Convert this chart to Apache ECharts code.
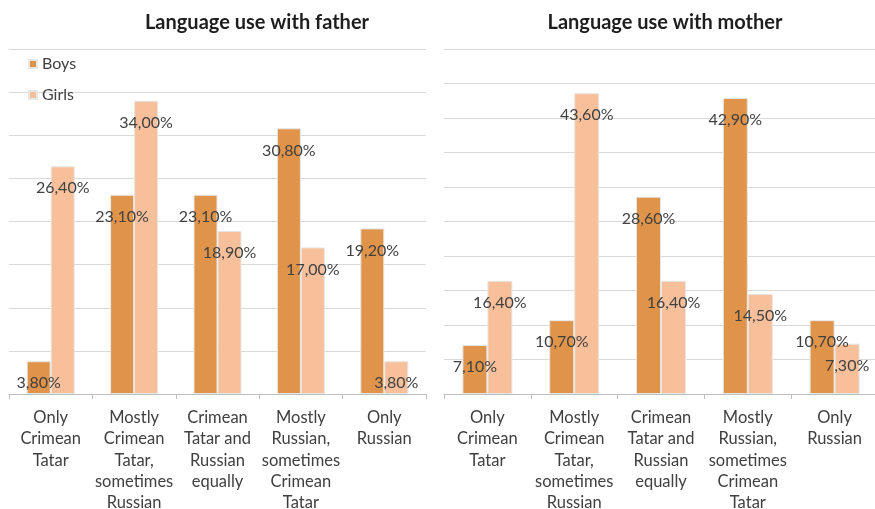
<!DOCTYPE html>
<html>
<head>
<meta charset="utf-8">
<script src="https://cdn.jsdelivr.net/npm/echarts@6/dist/echarts.min.js"></script>
<style>
  html, body { margin: 0; padding: 0; background: #fff; }
  #chart { width: 875px; height: 509px; }
</style>
</head>
<body>
<div id="chart"></div>
<script>
// Answer categories shared by both panels
const categories = [
  'Only\nCrimean\nTatar',
  'Mostly\nCrimean\nTatar,\nsometimes\nRussian',
  'Crimean\nTatar and\nRussian\nequally',
  'Mostly\nRussian,\nsometimes\nCrimean\nTatar',
  'Only\nRussian'
];

// Share of respondents (%), language use with father
const fatherBoys  = [3.8, 23.1, 23.1, 30.8, 19.2];
const fatherGirls = [26.4, 34.0, 18.9, 17.0, 3.8];

// Share of respondents (%), language use with mother
const motherBoys  = [7.1, 10.7, 28.6, 42.9, 10.7];
const motherGirls = [16.4, 43.6, 16.4, 14.5, 7.3];

const BOYS = '#E0944A';
const GIRLS = '#F8C09A';
const TEXT = '#404040';
const FONT = 'Lato, "Open Sans", sans-serif';

const pct = v => v.toFixed(2).replace('.', ',') + '%';

const valueLabel = {
  show: true,
  position: 'insideTop',
  distance: 14,
  color: TEXT,
  fontSize: 16,
  fontFamily: FONT,
  formatter: p => pct(p.value)
};

function xAxis(gridIndex) {
  return {
    type: 'category',
    gridIndex,
    data: categories,
    axisLine: { lineStyle: { color: '#BFBFBF', width: 1 } },
    axisTick: { show: true, length: 5, lineStyle: { color: '#BFBFBF' } },
    axisLabel: {
      color: TEXT, fontSize: 16.5, fontFamily: FONT,
      lineHeight: 21.3, margin: 13, interval: 0
    }
  };
}

function yAxis(gridIndex, max) {
  return {
    type: 'value',
    gridIndex,
    min: 0,
    max,
    interval: 5,
    axisLabel: { show: false },
    axisLine: { show: false },
    axisTick: { show: false },
    splitLine: { lineStyle: { color: '#D9D9D9', width: 1 } }
  };
}

function bars(name, data, color, idx, width) {
  return {
    name,
    type: 'bar',
    xAxisIndex: idx,
    yAxisIndex: idx,
    data,
    barWidth: width,
    barGap: '0%',
    itemStyle: { color, borderColor: '#E6E6E6', borderWidth: 1 },
    label: valueLabel
  };
}

const chart = echarts.init(document.getElementById('chart'), null, { renderer: 'canvas' });

chart.setOption({
  animation: false,
  backgroundColor: '#fff',
  textStyle: { fontFamily: FONT },
  title: [
    {
      text: 'Language use with father',
      left: 252, top: 8, textAlign: 'center',
      textStyle: { fontSize: 20, fontWeight: 'bold', color: '#1E1E1E', fontFamily: FONT }
    },
    {
      text: 'Language use with mother',
      left: 660, top: 8, textAlign: 'center',
      textStyle: { fontSize: 20, fontWeight: 'bold', color: '#1E1E1E', fontFamily: FONT }
    }
  ],
  legend: {
    orient: 'vertical',
    left: 23,
    top: 51,
    itemWidth: 8,
    itemHeight: 8,
    itemGap: 15,
    icon: 'rect',
    data: ['Boys', 'Girls'],
    textStyle: { color: TEXT, fontSize: 16, fontFamily: FONT }
  },
  grid: [
    { left: 9, width: 417, top: 49, bottom: 115, outerBoundsMode: 'none', containLabel: false },
    { left: 444, width: 434, top: 49, bottom: 115, outerBoundsMode: 'none', containLabel: false }
  ],
  xAxis: [xAxis(0), xAxis(1)],
  yAxis: [yAxis(0, 40), yAxis(1, 50)],
  series: [
    bars('Boys', fatherBoys, BOYS, 0, 24),
    bars('Girls', fatherGirls, GIRLS, 0, 24),
    bars('Boys', motherBoys, BOYS, 1, 25),
    bars('Girls', motherGirls, GIRLS, 1, 25)
  ]
});
</script>
</body>
</html>
